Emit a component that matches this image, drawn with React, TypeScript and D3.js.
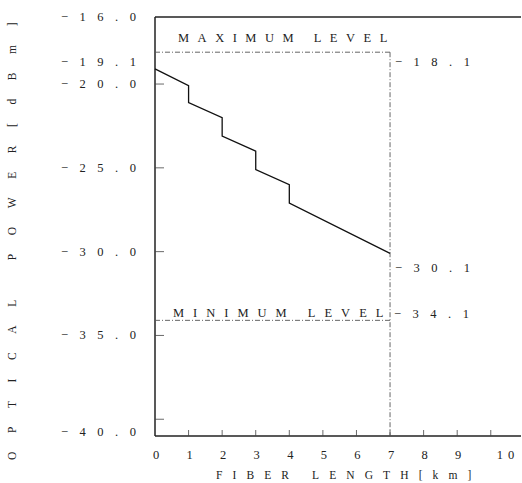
import React, { useEffect, useRef } from 'react';
import * as d3 from 'd3';

// loss profile along the fiber (connector steps every km)
const distanceKm = [0, 1, 1, 2, 2, 3, 3, 4, 4, 7];
const powerDbm = [-19.1, -20.1, -21.1, -22.0, -23.1, -24.0, -25.1, -26.0, -27.1, -30.1];

const maxLevel = -18.1;
const minLevel = -34.1;
const fiberEnd = 7;

const yTicks = [-16, -20, -25, -30, -35, -40];
const xTicks = [0, 1, 2, 3, 4, 5, 6, 7, 8, 9, 10];

const FONT = '"Liberation Serif", "DejaVu Serif", serif';

export default function App() {
  const svgRef = useRef<SVGSVGElement>(null);

  useEffect(() => {
    if (!svgRef.current) return;
    const width = 522;
    const height = 483;

    d3.select(svgRef.current).selectAll('*').remove();
    const svg = d3.select(svgRef.current).attr('width', width).attr('height', height);

    const x = d3.scaleLinear().domain([0, 10.9]).range([155, 521]);
    const y = d3.scaleLinear().domain([-16, -41]).range([17, 436]);

    const ink = '#222';
    const dotted = '#555';

    // frame: top, left, bottom
    svg.append('line').attr('x1', x(0)).attr('x2', x(10.9)).attr('y1', y(-16)).attr('y2', y(-16))
      .attr('stroke', ink).attr('stroke-width', 1.3);
    svg.append('line').attr('x1', x(0)).attr('x2', x(0)).attr('y1', y(-16)).attr('y2', y(-41))
      .attr('stroke', ink).attr('stroke-width', 1.5);
    svg.append('line').attr('x1', x(0)).attr('x2', x(10.9)).attr('y1', y(-41)).attr('y2', y(-41))
      .attr('stroke', ink).attr('stroke-width', 1.3);

    // inner ticks
    yTicks.filter(t => t !== -16).forEach(t => {
      svg.append('line').attr('x1', x(0)).attr('x2', x(0) + 9).attr('y1', y(t)).attr('y2', y(t))
        .attr('stroke', '#444').attr('stroke-width', 0.8);
    });
    xTicks.filter(t => t > 0).forEach(t => {
      svg.append('line').attr('x1', x(t)).attr('x2', x(t)).attr('y1', y(-41)).attr('y2', y(-41) - 6)
        .attr('stroke', '#444').attr('stroke-width', 0.8);
    });

    // level lines
    const dash = '5,2,1,2';
    svg.append('line').attr('x1', x(0)).attr('x2', x(fiberEnd)).attr('y1', y(maxLevel)).attr('y2', y(maxLevel))
      .attr('stroke', dotted).attr('stroke-width', 0.9).attr('stroke-dasharray', dash);
    svg.append('line').attr('x1', x(0)).attr('x2', x(fiberEnd)).attr('y1', y(minLevel)).attr('y2', y(minLevel))
      .attr('stroke', dotted).attr('stroke-width', 0.9).attr('stroke-dasharray', dash);
    svg.append('line').attr('x1', x(fiberEnd)).attr('x2', x(fiberEnd)).attr('y1', y(maxLevel)).attr('y2', y(-41))
      .attr('stroke', dotted).attr('stroke-width', 0.9).attr('stroke-dasharray', dash);

    // power profile
    const pts = distanceKm.map((d, i) => [d, powerDbm[i]] as [number, number]);
    const line = d3.line<[number, number]>().x(d => x(d[0])).y(d => y(d[1]));
    svg.append('path').datum(pts).attr('d', line).attr('fill', 'none')
      .attr('stroke', '#111').attr('stroke-width', 1.3);

    const label = (tx: number, ty: number, s: string, anchor: string, size = 12.5, spacing = 11.5) =>
      svg.append('text').attr('x', tx).attr('y', ty).attr('text-anchor', anchor)
        .attr('dominant-baseline', 'central')
        .style('font-family', FONT).style('font-size', `${size}px`)
        .style('letter-spacing', `${spacing}px`).attr('fill', ink).text(s);

    const fmt = (v: number) => '−' + Math.abs(v).toFixed(1);

    // left tick labels
    yTicks.forEach(t => {
      const off = t === -40 ? 13 : 0;
      label(147.5, y(t) + off, fmt(t), 'end');
    });
    label(147.5, y(-19.1) - 7, fmt(-19.1), 'end');

    // right level labels
    label(x(fiberEnd) + 5, y(maxLevel) + 10, fmt(maxLevel), 'start', 12.5, 11.5);
    label(x(fiberEnd) + 5, y(powerDbm[powerDbm.length - 1]) + 15, fmt(powerDbm[powerDbm.length - 1]), 'start', 12.5, 11.5);
    label(x(fiberEnd) + 4, y(minLevel) - 6, fmt(minLevel), 'start', 12.5, 11.5);

    // x tick labels
    xTicks.forEach(t => {
      if (t === 10) label(x(t) + 6, y(-41) + 19, '10', 'start', 12.5, 5);
      else label(x(t) + 1, y(-41) + 19, String(t), 'middle', 12.5, 0);
    });

    // level captions
    label(178, y(maxLevel) - 14, 'MAXIMUM LEVEL', 'start', 12.5, 8.5);
    label(173, y(minLevel) - 7, 'MINIMUM LEVEL', 'start', 12.5, 9);

    // axis titles
    label(216, 475, 'FIBER LENGTH[km]', 'start', 11.5, 10.1);
    svg.append('text')
      .attr('transform', `translate(12, 460) rotate(-90)`)
      .attr('text-anchor', 'start').attr('dominant-baseline', 'central')
      .style('font-family', FONT).style('font-size', '11.5px').style('letter-spacing', '18.6px')
      .attr('fill', ink).text('OPTICAL POWER[dBm]');
  }, []);

  return (
    <svg ref={svgRef} style={{ position: 'absolute', left: 0, top: 0, background: '#fff' }} />
  );
}
